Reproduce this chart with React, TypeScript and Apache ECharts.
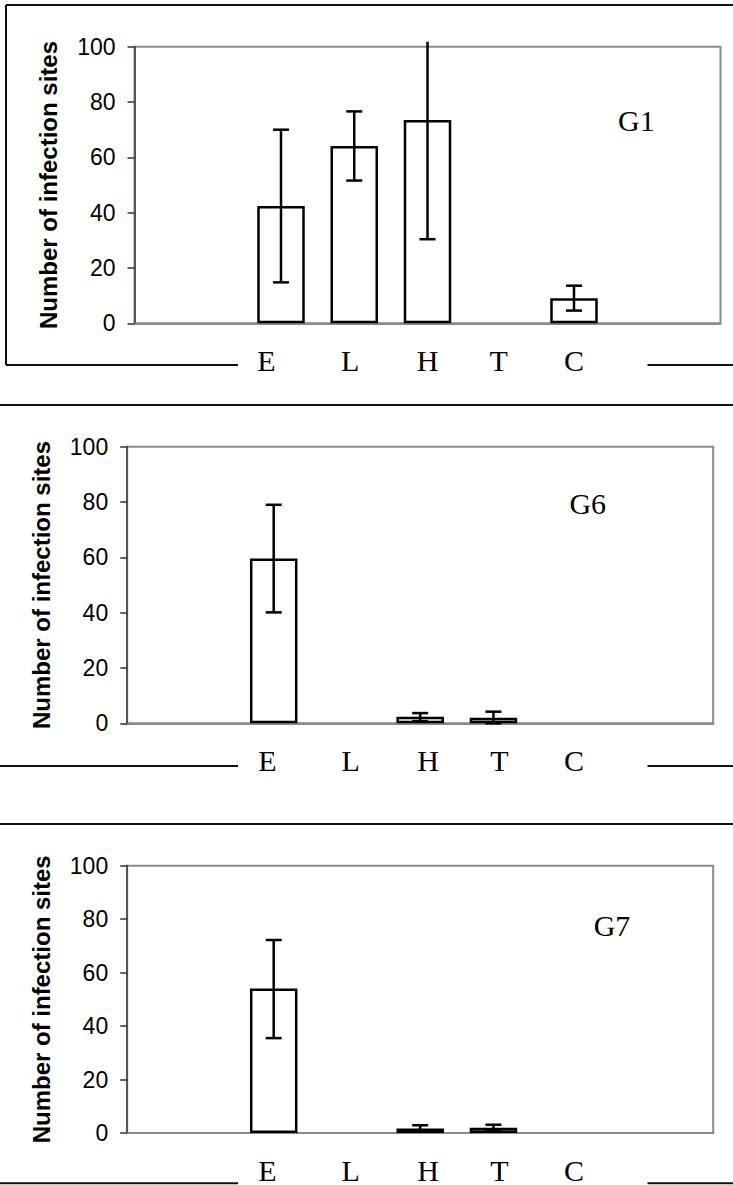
import React, { useEffect, useRef } from "react";
import * as echarts from "echarts";

// ---------- data ----------
const categories = ["E", "L", "H", "T", "C"];
const panelNames = ["G1", "G6", "G7"];

const g1Means = [42.4, 64.1, 73.5, 0, 9.1];
const g1Low = [14.8, 51.6, 30.4, 0, 4.6];
const g1High = [70.0, 76.6, 101.8, 0, 13.6];

const g6Means = [59.6, 0, 2.4, 2.0, 0];
const g6Low = [40.1, 0, 0.8, 0.0, 0];
const g6High = [79.0, 0, 3.7, 4.2, 0];

const g7Means = [54.1, 0, 1.7, 2.0, 0];
const g7Low = [35.5, 0, 0.6, 0.8, 0];
const g7High = [72.2, 0, 2.9, 3.1, 0];

const yMin = 0;
const yMax = 100;
const yStep = 20;
const yTitle = "Number of infection sites";

const panelMeans = [g1Means, g6Means, g7Means];
const panelLow = [g1Low, g6Low, g7Low];
const panelHigh = [g1High, g6High, g7High];

// ---------- layout (positions / styles) ----------
const W = 733;
const H = 1185;
const FONT_SANS = '"Liberation Sans", Arial, Helvetica, sans-serif';
const FONT_SERIF = '"Liberation Serif", "Times New Roman", Times, serif';
const GRID_W = 586;
const GRID_H = 276.6;
const GRIDS = [
  { left: 134.5, top: 46.7 },
  { left: 127.2, top: 446.7 },
  { left: 127.2, top: 865.7 },
];
// horizontal nudges of the category labels (px, + = right)
const LABEL_SHIFT = [
  [-14.5, -4, 0, -2, 0],
  [-6.3, 3.7, 8, 6, 7.4],
  [-6.3, 3.7, 8, 6, 7.4],
];
const NAME_POS = [
  { x: 618, y: 120 },
  { x: 569.4, y: 503 },
  { x: 593.7, y: 925 },
];

function frameGraphics() {
  const stroke = { stroke: "#111", lineWidth: 2 };
  const line = (x1: number, y1: number, x2: number, y2: number) => ({
    type: "line",
    shape: { x1, y1, x2, y2 },
    style: stroke,
    silent: true,
  });
  return [
    // panel 1
    line(6, 5, W, 5),
    line(6, 5, 6, 365),
    line(6, 365, 238, 365),
    line(647.5, 365, W, 365),
    // panel 2
    line(0, 405, W, 405),
    line(0, 766, 238, 766),
    line(647.5, 766, W, 766),
    // panel 3
    line(0, 824, W, 824),
    line(0, 1183.3, 238, 1183.3),
    line(647.5, 1183.3, W, 1183.3),
  ];
}

function buildOption() {
  const grid: any[] = [];
  const xAxis: any[] = [];
  const yAxis: any[] = [];
  const series: any[] = [];
  const graphic: any[] = frameGraphics();

  panelNames.forEach((name, p) => {
    grid.push({
      left: GRIDS[p].left,
      top: GRIDS[p].top,
      width: GRID_W,
      height: GRID_H,
      show: true,
      borderColor: "#8a8a8a",
      borderWidth: 2,
      backgroundColor: "transparent",
    });

    const rich: any = {};
    categories.forEach((c, i) => {
      const s = LABEL_SHIFT[p][i];
      rich["c" + i] = {
        fontFamily: FONT_SERIF,
        fontSize: 30,
        color: "#000",
        padding: s < 0 ? [0, -2 * s, 0, 0] : [0, 0, 0, 2 * s],
      };
    });

    xAxis.push({
      type: "value",
      gridIndex: p,
      min: -2,
      max: 6,
      interval: 1,
      axisLine: { show: true, onZero: false, lineStyle: { color: "#8a8a8a", width: 2 } },
      axisTick: { show: false },
      splitLine: { show: false },
      axisLabel: {
        show: true,
        margin: 22,
        fontFamily: FONT_SERIF,
        fontSize: 30,
        color: "#000",
        showMinLabel: true,
        showMaxLabel: true,
        formatter: (v: number) => {
          const i = Math.round(v);
          return categories[i] !== undefined ? `{c${i}|${categories[i]}}` : "";
        },
        rich,
      },
    });

    yAxis.push({
      type: "value",
      gridIndex: p,
      min: yMin,
      max: yMax,
      interval: yStep,
      name: yTitle,
      nameLocation: "middle",
      nameGap: 74,
      nameTextStyle: {
        fontFamily: FONT_SANS,
        fontSize: 24,
        fontWeight: "bold",
        color: "#000",
      },
      axisLine: { show: true, onZero: false, lineStyle: { color: "#555", width: 2 } },
      axisTick: { show: true, inside: false, length: 7, lineStyle: { color: "#333", width: 1.5 } },
      splitLine: { show: false },
      axisLabel: {
        margin: 19,
        fontFamily: FONT_SANS,
        fontSize: 23,
        color: "#000",
      },
    });

    const means = panelMeans[p];
    const low = panelLow[p];
    const high = panelHigh[p];

    series.push({
      type: "bar",
      xAxisIndex: p,
      yAxisIndex: p,
      barWidth: 47.5,
      z: 2,
      itemStyle: { color: "#fff", borderColor: "#000", borderWidth: 2.5 },
      data: means.map((m, i) => (m > 0 ? [i, m] : [i, "-"])),
    });

    series.push({
      type: "custom",
      xAxisIndex: p,
      yAxisIndex: p,
      z: 3,
      encode: { x: 0, y: [1, 2] },
      data: means
        .map((m, i) => (m > 0 ? [i, low[i], high[i]] : null))
        .filter((d) => d !== null),
      renderItem: (params: any, api: any) => {
        const x = api.value(0);
        const lo = api.value(1);
        const hi = api.value(2);
        const pLo = api.coord([x, lo]);
        const pHi = api.coord([x, hi]);
        const cap = 8;
        const st = { stroke: "#000", lineWidth: 2.5 };
        const children: any[] = [
          { type: "line", shape: { x1: pLo[0], y1: pLo[1], x2: pHi[0], y2: pHi[1] }, style: st },
        ];
        if (hi <= yMax) {
          children.push({
            type: "line",
            shape: { x1: pHi[0] - cap, y1: pHi[1], x2: pHi[0] + cap, y2: pHi[1] },
            style: st,
          });
        }
        if (lo >= yMin) {
          children.push({
            type: "line",
            shape: { x1: pLo[0] - cap, y1: pLo[1], x2: pLo[0] + cap, y2: pLo[1] },
            style: st,
          });
        }
        return { type: "group", children };
      },
    });

    graphic.push({
      type: "text",
      x: NAME_POS[p].x,
      y: NAME_POS[p].y,
      silent: true,
      style: {
        text: name,
        fontFamily: FONT_SERIF,
        fontSize: 30,
        fill: "#000",
        align: "left",
        verticalAlign: "middle",
      },
    });
  });

  return {
    animation: false,
    backgroundColor: "#fff",
    grid,
    xAxis,
    yAxis,
    series,
    graphic,
  };
}

export default function App() {
  const ref = useRef<HTMLDivElement>(null);
  useEffect(() => {
    if (!ref.current) return;
    const chart = echarts.init(ref.current, null, { renderer: "svg", width: W, height: H });
    chart.setOption(buildOption() as any);
    return () => chart.dispose();
  }, []);
  return (
    <div
      ref={ref}
      style={{ position: "absolute", left: 0, top: 0, width: W, height: H, background: "#fff" }}
    />
  );
}
